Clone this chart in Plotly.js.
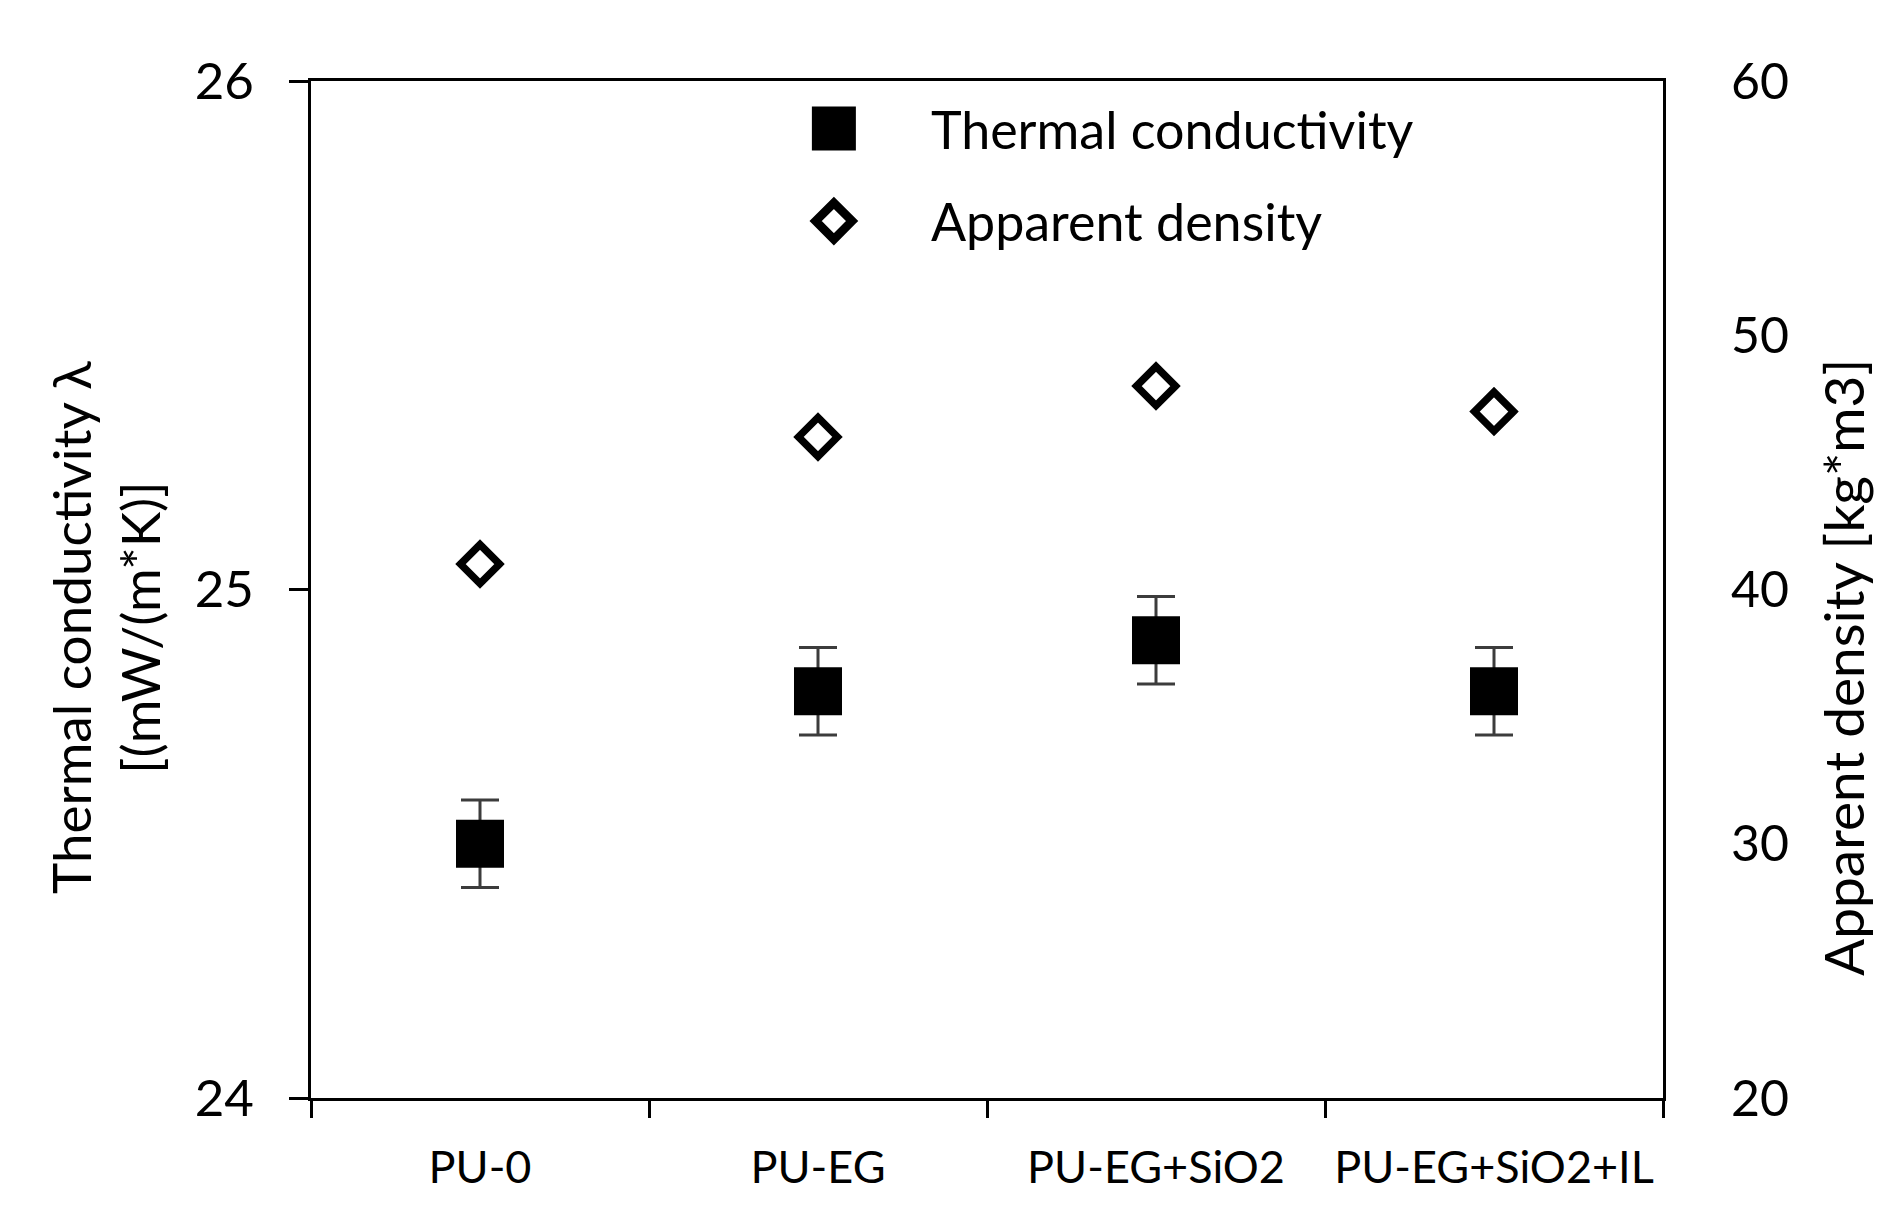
<!DOCTYPE html>
<html>
<head>
<meta charset="utf-8">
<script src="https://cdn.plot.ly/plotly-3.0.1.min.js"></script>
<style>
  html, body { margin: 0; padding: 0; background: #ffffff; }
  #chart { width: 1899px; height: 1228px; }
</style>
</head>
<body>
<div id="chart"></div>
<script>
// ---- data ----
const categories = ["PU-0", "PU-EG", "PU-EG+SiO2", "PU-EG+SiO2+IL"];
const thermalConductivity = [24.50, 24.80, 24.90, 24.80];     // mW/(m*K)
const thermalError = [0.086, 0.086, 0.086, 0.086];
const apparentDensity = [41, 46, 48, 47];                       // kg*m3
const leftTicks = [24, 25, 26];
const rightTicks = [20, 30, 40, 50, 60];

const FONT = "Lato, 'Open Sans', sans-serif";

const traces = [
  {
    name: "Thermal conductivity",
    x: categories,
    y: thermalConductivity,
    type: "scatter",
    mode: "markers",
    legendgroup: "a",
    marker: { symbol: "square", size: 48, color: "#000000", line: { width: 0 } },
    error_y: { type: "data", array: thermalError, visible: true, color: "#3c3c3c", thickness: 3, width: 19 },
    xaxis: "x",
    yaxis: "y"
  },
  {
    name: "Apparent density",
    x: categories,
    y: apparentDensity,
    type: "scatter",
    mode: "markers",
    legendgroup: "b",
    marker: { symbol: "diamond-open", size: 30, color: "#000000", line: { width: 7.4, color: "#000000" } },
    xaxis: "x",
    yaxis: "y2"
  }
];

const layout = {
  width: 1899,
  height: 1228,
  paper_bgcolor: "#ffffff",
  plot_bgcolor: "#ffffff",
  margin: { l: 311, r: 236, t: 81, b: 130 },
  font: { family: FONT, color: "#000000" },
  showlegend: true,
  legend: {
    x: 0.315, xanchor: "left",
    y: 0.993, yanchor: "top",
    bgcolor: "rgba(0,0,0,0)",
    borderwidth: 0,
    font: { family: FONT, size: 52, color: "#000000" },
    itemwidth: 184,
    traceorder: "grouped",
    tracegroupgap: 22
  },
  xaxis: {
    type: "category",
    categoryorder: "array",
    categoryarray: categories,
    range: [-0.5, 3.5],
    tickson: "boundaries",
    ticks: "outside",
    ticklen: 17,
    tickwidth: 3,
    tickcolor: "#000000",
    showline: true,
    linewidth: 3,
    linecolor: "#000000",
    mirror: true,
    showgrid: false,
    zeroline: false,
    ticklabelstandoff: 28,
    tickfont: { family: FONT, size: 45, color: "#000000" }
  },
  yaxis: {
    range: [24, 26],
    tickvals: leftTicks,
    ticktext: leftTicks.map(String),
    ticks: "outside",
    ticklen: 19,
    tickwidth: 3,
    tickcolor: "#000000",
    showline: true,
    linewidth: 3,
    linecolor: "#000000",
    showgrid: false,
    zeroline: false,
    ticklabelstandoff: 25,
    tickfont: { family: FONT, size: 51, color: "#000000" }
  },
  yaxis2: {
    overlaying: "y",
    side: "right",
    range: [20, 60],
    tickvals: rightTicks,
    ticktext: rightTicks.map(String),
    ticks: "",
    showline: true,
    linewidth: 3,
    linecolor: "#000000",
    showgrid: false,
    zeroline: false,
    ticklabelstandoff: 55,
    tickfont: { family: FONT, size: 50, color: "#000000" }
  },
  annotations: [
    {
      text: "Thermal conductivity λ<br>[(mW/(m*K)]",
      xref: "paper", yref: "paper",
      x: -0.1525, y: 0.463,
      xanchor: "center", yanchor: "middle",
      textangle: -90,
      showarrow: false,
      font: { family: FONT, size: 53, color: "#000000" }
    },
    {
      text: "Apparent density [kg*m3]",
      xref: "paper", yref: "paper",
      x: 1.1331, y: 0.4238,
      xanchor: "center", yanchor: "middle",
      textangle: -90,
      showarrow: false,
      font: { family: FONT, size: 55, color: "#000000" }
    }
  ]
};

Plotly.newPlot("chart", traces, layout, { displayModeBar: false, staticPlot: true }).then(function (gd) {
  // enlarge legend symbols to the size used in the reference
  const scales = [2.75, 1.75];
  const items = gd.querySelectorAll(".legend .traces");
  items.forEach(function (item, i) {
    item.querySelectorAll(".legendpoints path").forEach(function (p) {
      const t = p.getAttribute("transform") || "";
      p.setAttribute("transform", t + " scale(" + scales[i] + ")");
    });
  });
});
</script>
</body>
</html>
